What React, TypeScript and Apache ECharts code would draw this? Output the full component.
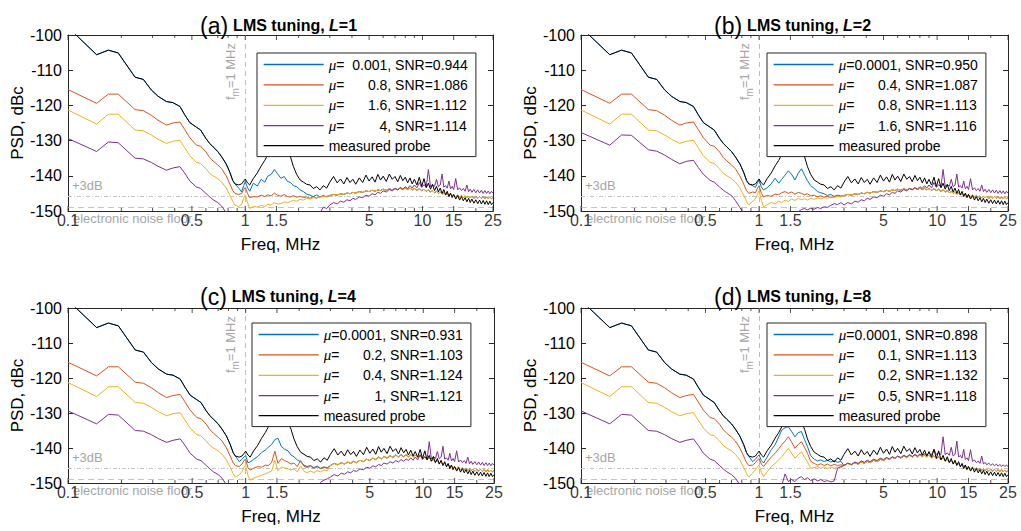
import { useEffect, useRef } from 'react';
import * as echarts from 'echarts';

// ---------------- frequency grids (MHz) ----------------
const FREQ_LOW = [0.1, 0.145, 0.169, 0.192, 0.239, 0.266, 0.295, 0.322, 0.359, 0.39, 0.428, 0.455, 0.487, 0.531, 0.56, 0.6, 0.63, 0.659, 0.7, 0.736, 0.78, 0.819, 0.85, 0.875];
const FREQ_MID = [0.92, 0.954, 0.98, 1.0, 1.03, 1.06, 1.11, 1.17, 1.23, 1.29, 1.34, 1.4, 1.46, 1.52, 1.59, 1.66, 1.73, 1.8, 1.87, 1.95, 2.04, 2.13, 2.22, 2.32, 2.42, 2.53, 2.64, 2.76, 2.88];
const FREQ_HIGH = [3.0, 3.15, 3.3, 3.45, 3.6, 3.75, 3.9, 4.05, 4.2, 4.4, 4.6, 4.8, 5.0, 5.2, 5.4, 5.6, 5.8, 6.0, 6.25, 6.5, 6.75, 7.0, 7.25, 7.5, 7.75, 8.0, 8.25, 8.5, 8.75, 9.0, 9.3, 9.6, 9.9, 10.2, 10.5, 10.8, 11.1, 11.4, 11.7, 12.0, 12.3, 12.6, 12.9, 13.2, 13.5, 13.8, 14.1, 14.4, 14.7, 15.0, 15.4, 15.8, 16.2, 16.6, 17.0, 17.4, 17.8, 18.2, 18.6, 19.0, 19.5, 20.0, 20.5, 21.0, 21.5, 22.0, 22.5, 23.0, 23.5, 24.0, 24.5, 25.0];

// ---------------- low-frequency segments (dBc) ----------------
const BLACK_LOW = [-97.8, -105.6, -104.3, -105.1, -112.0, -112.6, -115.6, -117.4, -118.9, -119.2, -120.3, -122.6, -124.9, -126.2, -127.0, -129.4, -130.8, -131.8, -133.1, -134.6, -136.6, -139.0, -141.3, -142.3];
const RED_LOW = [-115.5, -119.4, -116.8, -116.8, -121.2, -121.5, -122.8, -124.2, -125.6, -125.0, -124.7, -126.8, -129.2, -131.3, -131.6, -133.2, -134.8, -135.8, -136.9, -138.0, -140.0, -142.3, -144.2, -145.0];
const YELLOW_LOW = [-121.3, -125.3, -122.5, -122.5, -127.0, -127.2, -128.4, -129.6, -130.8, -130.2, -129.9, -132.0, -134.3, -136.2, -136.5, -138.0, -139.3, -140.0, -140.8, -141.8, -143.4, -145.5, -147.3, -148.3];
const PURPLE_LOW = [-129.4, -133.1, -130.4, -130.6, -135.0, -135.2, -136.2, -137.3, -138.4, -137.8, -137.4, -139.2, -141.5, -143.2, -143.6, -145.0, -146.0, -146.8, -147.6, -148.6, -150.5, -152, -153, -153.5];
const PURPLE_LOW_B = [-127.7, -131.3, -128.4, -128.5, -132.6, -133.0, -134.1, -135.3, -136.6, -135.9, -135.6, -137.6, -139.6, -141.3, -141.8, -143.2, -144.1, -144.8, -145.6, -147.0, -149.0, -150.6, -152, -153];

// ---------------- 0.9 - 3 MHz segments ----------------
const BLACK_MID = [-142.6, -142.3, -141.5, -140.9, -142.0, -142.6, -140.8, -139.2, -137.2, -135.6, -134.0, -132.5, -131.6, -130.5, -131.4, -130.8, -132.6, -134.6, -137.4, -139.6, -141.2, -141.8, -142.4, -142.6, -143.6, -143.1, -144.0, -142.8, -143.5];
const BLUE_MID_A = [-143.5, -144.6, -142.8, -141.6, -143.4, -144.4, -142.1, -142.9, -141.0, -141.8, -140.1, -139.6, -138.2, -139.4, -140.7, -140.2, -141.6, -141.9, -142.8, -143.1, -144.0, -144.5, -145.2, -145.5, -145.9, -145.4, -146.0, -145.6, -146.0];
const RED_MID_A = [-145.3, -145.0, -143.9, -143.3, -145.0, -146.2, -145.9, -146.0, -145.5, -145.9, -145.4, -145.7, -144.9, -145.5, -145.8, -145.3, -145.9, -146.0, -145.6, -146.1, -145.8, -146.2, -146.0, -146.4, -146.0, -146.3, -146.0, -145.8, -145.9];
const YELLOW_MID_A = [-148.8, -148.0, -146.4, -145.4, -147.6, -149.3, -148.7, -148.9, -148.4, -148.7, -148.1, -148.3, -147.6, -148.0, -147.9, -147.4, -147.7, -147.3, -147.0, -147.2, -146.7, -146.9, -146.4, -146.6, -146.2, -146.4, -146.0, -145.9, -145.8];
const PURPLE_MID_A = [-154, -154, -153, -152.5, -154, -155, -154.5, -154, -153.5, -153.5, -153, -153, -152.5, -152.5, -152.5, -152, -152, -152, -151.8, -151.8, -151.6, -151.5, -151.5, -151.3, -151.2, -151.0, -150.5, -148.9, -149.3];
const BLUE_MID_B = [-142.8, -143.3, -142.0, -141.2, -143.2, -144.0, -143.4, -142.3, -140.7, -142.1, -141.0, -139.8, -138.6, -139.5, -141.2, -139.3, -138.0, -139.8, -141.4, -142.8, -143.6, -144.5, -144.8, -145.1, -145.6, -145.3, -145.9, -145.5, -145.8];
const RED_MID_B = [-144.6, -144.8, -143.5, -142.8, -145.0, -146.0, -145.6, -145.8, -145.2, -145.4, -144.8, -144.5, -145.0, -144.6, -145.2, -144.7, -145.0, -145.4, -145.1, -145.7, -145.5, -146.0, -145.7, -146.1, -145.8, -146.2, -145.9, -145.7, -145.9];
const YELLOW_MID_B = [-147.2, -146.6, -145.2, -144.3, -147.0, -148.8, -148.2, -147.6, -148.0, -147.2, -147.6, -146.9, -147.3, -146.6, -147.0, -146.4, -146.8, -146.5, -146.9, -146.4, -146.7, -146.3, -146.6, -146.2, -146.4, -146.0, -146.2, -145.8, -146.0];
const PURPLE_MID_B = [-153.5, -153, -152.5, -152, -153, -153.5, -153, -152.5, -152, -151.8, -151.5, -151.2, -151, -150.8, -150.6, -150.2, -149.6, -149.3, -149.7, -149.2, -149.5, -149.0, -149.3, -148.8, -149.0, -148.4, -147.9, -148.2, -147.6];
const BLUE_MID_C = [-143.9, -143.2, -142.5, -142.2, -144.2, -144.0, -143.2, -142.4, -141.3, -140.6, -139.8, -139.0, -137.6, -137.2, -139.6, -140.4, -140.8, -142.0, -142.5, -143.4, -144.0, -144.9, -145.3, -145.0, -145.6, -145.2, -145.8, -145.4, -145.7];
const RED_MID_C = [-145.3, -144.6, -143.5, -143.2, -145.6, -146.3, -145.8, -145.3, -145.5, -144.9, -145.0, -144.2, -140.9, -144.4, -143.0, -143.6, -144.0, -144.6, -144.3, -145.3, -143.6, -145.2, -145.6, -145.2, -145.8, -145.4, -145.9, -145.5, -145.8];
const YELLOW_MID_C = [-147.7, -146.8, -145.3, -145.0, -147.8, -149.2, -148.6, -148.2, -147.8, -147.4, -147.0, -146.6, -143.5, -146.5, -145.4, -145.7, -145.9, -146.3, -146.0, -146.8, -145.2, -146.7, -147.0, -146.6, -147.0, -146.5, -146.8, -146.3, -146.5];
const PURPLE_MID_C = [-154, -154, -153, -152.5, -154, -155, -154.5, -154, -153.5, -153.5, -153, -153, -152.5, -152.5, -152.5, -152, -152, -152, -151.8, -151.8, -151.6, -151.5, -151.5, -151.3, -151.2, -151.0, -149.8, -149.2, -148.8];
const BLUE_MID_D = [-143.9, -143.2, -142.4, -142.0, -143.6, -144.3, -142.6, -140.5, -139.1, -136.8, -134.9, -134.2, -133.9, -135.2, -136.8, -135.6, -135.3, -137.6, -139.6, -142.2, -143.2, -143.7, -143.4, -143.9, -143.5, -144.0, -143.6, -144.1, -143.8];
const RED_MID_D = [-144.9, -144.2, -143.4, -143.0, -144.6, -145.3, -144.0, -142.6, -141.5, -140.2, -139.1, -138.0, -136.8, -138.2, -140.1, -139.0, -138.2, -139.8, -141.5, -143.8, -144.4, -144.9, -144.5, -145.0, -144.6, -145.1, -144.7, -145.0, -144.8];
const YELLOW_MID_D = [-147.2, -146.2, -145.4, -144.9, -146.9, -148.2, -146.8, -145.3, -144.4, -143.4, -142.5, -141.3, -140.1, -141.4, -142.9, -141.9, -141.1, -142.6, -144.0, -145.8, -145.6, -145.3, -145.8, -145.4, -145.9, -145.5, -145.8, -145.4, -145.7];
const PURPLE_MID_D = [-153.5, -153, -152.5, -152, -153, -153.5, -153, -152.5, -152, -151.5, -150.8, -147.4, -149.6, -149.0, -149.6, -148.6, -148.2, -149.0, -148.5, -149.3, -148.8, -149.4, -149.0, -149.6, -149.3, -149.7, -149.4, -145.8, -145.3];

// ---------------- 3 - 25 MHz segments ----------------
const BLACK_HIGH = [
  -141.8, -140.2, -142.0, -140.9, -142.3, -140.5, -141.9, -141.0, -142.4,
  -140.6, -141.9, -139.8, -141.5, -140.3, -141.8, -139.6, -141.2, -140.1,
  -141.6, -139.5, -141.0, -140.2, -141.7, -139.9, -141.4, -140.4, -142.0, -140.6, -142.3, -141.0,
  -142.6, -140.4, -143.0, -140.8, -143.4, -142.1, -143.8, -142.5, -144.2, -143.0, -144.6, -143.5, -145.0, -143.9, -145.4, -144.4, -145.9, -144.9, -146.2, -145.3,
  -146.6, -145.6, -146.9, -145.9, -147.1, -146.2, -147.4, -146.4, -147.6, -146.6,
  -147.8, -146.8, -147.9, -146.9, -148.0, -147.0, -148.1, -147.1, -148.2, -147.2, -148.2, -147.6];
const GROUP_HIGH_AB = [
  -145.6, -145.3, -145.5, -145.1, -145.3, -144.9, -145.1, -144.7, -144.9,
  -144.5, -144.7, -144.3, -144.5, -144.1, -144.4, -144.0, -144.2, -143.8,
  -144.1, -143.7, -144.0, -143.6, -143.9, -143.5, -143.9, -143.5, -143.9, -143.5, -144.0, -143.6,
  -144.1, -143.7, -144.2, -143.8, -144.4, -144.0, -144.6, -144.2, -144.8, -144.4, -145.0, -144.6, -145.2, -144.8, -145.4, -145.0, -145.6, -145.2, -145.8, -145.4,
  -146.0, -145.5, -146.1, -145.6, -146.2, -145.7, -146.3, -145.8, -146.3, -145.8,
  -146.4, -145.9, -146.4, -145.9, -146.4, -145.9, -146.5, -146.0, -146.5, -146.0, -146.5, -146.1];
const GROUP_HIGH_CD = [
  -145.0, -144.4, -144.8, -144.2, -144.6, -144.0, -144.4, -143.8, -144.2,
  -143.5, -143.9, -143.2, -143.6, -142.9, -143.3, -142.6, -143.1, -142.4,
  -142.9, -142.2, -142.7, -142.0, -142.6, -141.9, -142.5, -141.9, -142.5, -141.9, -142.6, -142.0,
  -142.8, -142.2, -143.0, -142.5, -143.3, -142.8, -143.6, -143.2, -144.0, -143.6, -144.4, -144.0, -144.8, -144.4, -145.1, -144.7, -145.4, -145.0, -145.7, -145.3,
  -146.0, -145.5, -146.2, -145.7, -146.3, -145.8, -146.4, -145.9, -146.5, -146.0,
  -146.6, -146.1, -146.6, -146.1, -146.7, -146.2, -146.7, -146.2, -146.8, -146.3, -146.8, -146.4];
const PURPLE_HIGH = [
  -148.3, -147.6, -148.0, -147.2, -147.5, -146.8, -147.1, -146.4, -146.7,
  -146.0, -146.2, -145.5, -145.8, -145.1, -145.4, -144.7, -145.0, -144.3,
  -144.6, -143.9, -144.3, -143.6, -144.0, -143.3, -143.8, -143.1, -143.6, -142.8, -143.5, -142.6,
  -143.4, -141.9, -143.3, -142.5, -143.2, -138.2, -143.1, -142.4, -143.0, -141.0, -143.1, -142.6, -139.5, -143.2, -142.8, -143.5, -141.5, -143.7, -143.0, -143.9,
  -140.8, -144.0, -143.4, -144.2, -143.6, -144.4, -142.6, -144.5, -143.8, -144.7,
  -143.9, -144.8, -144.0, -144.9, -144.1, -145.0, -144.2, -145.0, -144.3, -145.1, -144.4, -144.9];
const PURPLE_HIGH_D = [
  -145.0, -144.3, -144.7, -144.0, -144.4, -143.7, -144.1, -143.5, -143.9,
  -143.2, -143.6, -142.9, -143.3, -142.7, -143.1, -142.5, -142.9, -142.3,
  -142.7, -142.1, -142.5, -141.9, -142.4, -141.8, -142.3, -141.7, -142.2, -141.6, -142.1, -141.5,
  -142.0, -140.4, -141.9, -141.3, -141.9, -136.8, -141.9, -141.4, -142.1, -139.8, -142.3, -141.8, -138.0, -142.6, -142.1, -142.9, -140.4, -143.3, -142.8, -143.6,
  -140.5, -143.9, -143.4, -144.2, -143.7, -144.4, -142.3, -144.6, -144.1, -144.8,
  -144.3, -145.0, -144.5, -145.1, -144.6, -145.2, -144.7, -145.3, -144.8, -145.3, -144.9, -145.3];

// ---------------- legend entries ----------------
const MU_A = ['0.001', '0.8', '1.6', '4'];
const SNR_A = ['0.944', '1.086', '1.112', '1.114'];
const MU_B = ['0.0001', '0.4', '0.8', '1.6'];
const SNR_B = ['0.950', '1.087', '1.113', '1.116'];
const MU_C = ['0.0001', '0.2', '0.4', '1'];
const SNR_C = ['0.931', '1.103', '1.124', '1.121'];
const MU_D = ['0.0001', '0.1', '0.2', '0.5'];
const SNR_D = ['0.898', '1.113', '1.132', '1.118'];
const PROBE_NAME = 'measured probe';

// ---------------- axis ticks & reference levels ----------------
const MAJOR_TICKS = [0.1, 0.5, 1, 1.5, 5, 10, 15, 25];
const MINOR_TICKS = [0.2, 0.3, 0.4, 0.6, 0.7, 0.8, 0.9, 2, 3, 4, 6, 7, 8, 9, 20];
const F_MOD = 1;
const NOISE_FLOOR = -148.8;
const PLUS_3DB = -145.8;
const Y_MIN = -150;
const Y_MAX = -100;

const COLORS = ['#0072BD', '#D95319', '#EDB120', '#7E2F8E', '#000000'];
const AXIS_COLOR = '#262626';
const FONT = '"Liberation Sans", Arial, Helvetica, sans-serif';
const GRAY = '#a6a6a6';

function pairs(freqs: number[], vals: number[]) {
  return freqs.map((f, i) => [f, vals[i]]);
}
function curve(low: number[], mid: number[], high: number[]) {
  return [...pairs(FREQ_LOW, low), ...pairs(FREQ_MID, mid), ...pairs(FREQ_HIGH, high)];
}

const PANELS = [
  {
    tag: '(a)', L: '1', mu: MU_A, snr: SNR_A,
    grid: { left: 68, top: 35, width: 425, height: 176 },
    legend: { left: 257, top: 53 }, title: { left: 195, top: 9 },
    curves: [
      curve(BLACK_LOW, BLUE_MID_A, GROUP_HIGH_AB),
      curve(RED_LOW, RED_MID_A, GROUP_HIGH_AB),
      curve(YELLOW_LOW, YELLOW_MID_A, GROUP_HIGH_AB),
      curve(PURPLE_LOW, PURPLE_MID_A, PURPLE_HIGH),
      curve(BLACK_LOW, BLACK_MID, BLACK_HIGH),
    ],
  },
  {
    tag: '(b)', L: '2', mu: MU_B, snr: SNR_B,
    grid: { left: 581, top: 35, width: 427, height: 176 },
    legend: { left: 767, top: 53 }, title: { left: 709, top: 9 },
    curves: [
      curve(BLACK_LOW, BLUE_MID_B, GROUP_HIGH_AB),
      curve(RED_LOW, RED_MID_B, GROUP_HIGH_AB),
      curve(YELLOW_LOW, YELLOW_MID_B, GROUP_HIGH_AB),
      curve(PURPLE_LOW_B, PURPLE_MID_B, PURPLE_HIGH),
      curve(BLACK_LOW, BLACK_MID, BLACK_HIGH),
    ],
  },
  {
    tag: '(c)', L: '4', mu: MU_C, snr: SNR_C,
    grid: { left: 68, top: 308, width: 426, height: 175 },
    legend: { left: 252, top: 323 }, title: { left: 195, top: 280 },
    curves: [
      curve(BLACK_LOW, BLUE_MID_C, GROUP_HIGH_CD),
      curve(RED_LOW, RED_MID_C, GROUP_HIGH_CD),
      curve(YELLOW_LOW, YELLOW_MID_C, GROUP_HIGH_CD),
      curve(PURPLE_LOW, PURPLE_MID_C, PURPLE_HIGH),
      curve(BLACK_LOW, BLACK_MID, BLACK_HIGH),
    ],
  },
  {
    tag: '(d)', L: '8', mu: MU_D, snr: SNR_D,
    grid: { left: 581, top: 308, width: 427, height: 175 },
    legend: { left: 767, top: 323 }, title: { left: 709, top: 280 },
    curves: [
      curve(BLACK_LOW, BLUE_MID_D, GROUP_HIGH_CD),
      curve(RED_LOW, RED_MID_D, GROUP_HIGH_CD),
      curve(YELLOW_LOW, YELLOW_MID_D, GROUP_HIGH_CD),
      curve(PURPLE_LOW, PURPLE_MID_D, PURPLE_HIGH_D),
      curve(BLACK_LOW, BLACK_MID, BLACK_HIGH),
    ],
  },
];

function buildOption() {
  const grid: any[] = [];
  const xAxis: any[] = [];
  const yAxis: any[] = [];
  const series: any[] = [];
  const legend: any[] = [];
  const title: any[] = [];
  const axisLine = { show: true, onZero: false, lineStyle: { color: AXIS_COLOR, width: 1 } };
  const nameStyle = { fontSize: 17, color: '#000', fontFamily: FONT };

  PANELS.forEach((p, i) => {
    grid.push({ ...p.grid, containLabel: false });
    const xb = 2 * i;
    const yl = 2 * i;
    xAxis.push({
      type: 'log', logBase: 10, gridIndex: i, min: 0.1, max: 25, position: 'bottom',
      axisLine, axisTick: { show: false }, axisLabel: { show: false }, splitLine: { show: false },
      name: 'Freq, MHz', nameLocation: 'middle', nameGap: 25, nameTextStyle: nameStyle,
    });
    xAxis.push({
      type: 'log', logBase: 10, gridIndex: i, min: 0.1, max: 25, position: 'top',
      axisLine, axisTick: { show: false }, axisLabel: { show: false }, splitLine: { show: false },
    });
    yAxis.push({
      type: 'value', gridIndex: i, min: Y_MIN, max: Y_MAX, interval: 10, position: 'left',
      axisLine, axisTick: { show: true, inside: true, length: 5, lineStyle: { color: AXIS_COLOR } },
      axisLabel: { fontSize: 16, color: '#000', fontFamily: FONT, margin: 6 },
      splitLine: { show: false },
      name: 'PSD, dBc', nameLocation: 'middle', nameGap: 42, nameTextStyle: nameStyle,
    });
    yAxis.push({
      type: 'value', gridIndex: i, min: Y_MIN, max: Y_MAX, interval: 10, position: 'right',
      axisLine, axisTick: { show: true, inside: true, length: 5, lineStyle: { color: AXIS_COLOR } },
      axisLabel: { show: false }, splitLine: { show: false },
    });

    const names = p.mu.map((m, k) => `μ=${m}, SNR=${p.snr[k]}`);
    const allNames = [...names, PROBE_NAME];
    p.curves.forEach((data, k) => {
      const s: any = {
        type: 'line', name: allNames[k], xAxisIndex: xb, yAxisIndex: yl, data,
        symbol: 'none', showSymbol: false, clip: true, silent: true,
        lineStyle: { color: COLORS[k], width: 1 }, itemStyle: { color: COLORS[k] },
        z: 2 + k * 0.01,
      };
      if (k === 4) {
        s.markLine = {
          silent: true, symbol: ['none', 'none'], animation: false, z: 1,
          data: [
            {
              xAxis: F_MOD,
              lineStyle: { type: [5, 4], color: '#bdbdbd', width: 1 },
              label: {
                show: true, position: 'insideEndTop', distance: [8, 5],
                formatter: '{f|f}{m|m}{t|=1 MHz}',
                rich: {
                  f: { fontSize: 13, color: GRAY, fontFamily: FONT, lineHeight: 20, verticalAlign: 'middle' },
                  m: { fontSize: 10, color: GRAY, fontFamily: FONT, lineHeight: 10, verticalAlign: 'bottom' },
                  t: { fontSize: 13, color: GRAY, fontFamily: FONT, lineHeight: 20, verticalAlign: 'middle' },
                },
              },
            },
            {
              yAxis: NOISE_FLOOR,
              lineStyle: { type: [6, 4], color: '#c4c4c4', width: 1 },
              label: { show: true, position: 'insideStartBottom', distance: 5, formatter: 'electronic noise floor', color: GRAY, fontSize: 13, fontFamily: FONT },
            },
            {
              yAxis: PLUS_3DB,
              lineStyle: { type: [4, 2, 1, 2], color: '#c4c4c4', width: 1 },
              label: { show: true, position: 'insideStartTop', distance: 4, formatter: '+3dB', color: GRAY, fontSize: 13, fontFamily: FONT },
            },
          ],
        };
      }
      series.push(s);
    });

    // axis tick marks drawn on the log axes
    series.push({
      type: 'scatter', xAxisIndex: xb, yAxisIndex: yl, silent: true, clip: false, z: 5,
      data: MAJOR_TICKS.map((f) => [f, Y_MIN]),
      symbol: 'rect', symbolSize: [1, 5], symbolOffset: [0, -2.5], itemStyle: { color: AXIS_COLOR },
      label: { show: true, position: 'bottom', distance: 1, formatter: (q: any) => String(q.value[0]), fontSize: 16, color: '#000', fontFamily: FONT },
    });
    series.push({
      type: 'scatter', xAxisIndex: xb, yAxisIndex: yl, silent: true, clip: false, z: 5,
      data: MAJOR_TICKS.map((f) => [f, Y_MAX]),
      symbol: 'rect', symbolSize: [1, 5], symbolOffset: [0, 2.5], itemStyle: { color: AXIS_COLOR },
    });
    series.push({
      type: 'scatter', xAxisIndex: xb, yAxisIndex: yl, silent: true, clip: false, z: 5,
      data: MINOR_TICKS.map((f) => [f, Y_MIN]),
      symbol: 'rect', symbolSize: [1, 3], symbolOffset: [0, -1.5], itemStyle: { color: AXIS_COLOR },
    });
    series.push({
      type: 'scatter', xAxisIndex: xb, yAxisIndex: yl, silent: true, clip: false, z: 5,
      data: MINOR_TICKS.map((f) => [f, Y_MAX]),
      symbol: 'rect', symbolSize: [1, 3], symbolOffset: [0, 1.5], itemStyle: { color: AXIS_COLOR },
    });

    legend.push({
      orient: 'vertical', left: p.legend.left, top: p.legend.top, data: allNames,
      backgroundColor: '#ffffff', borderColor: AXIS_COLOR, borderWidth: 1, borderRadius: 0,
      padding: [4, 8, 4, 6], itemWidth: 60, itemHeight: 14, itemGap: 5.4, selectedMode: false,
      itemStyle: { opacity: 0 },
      lineStyle: { width: 1.3 },
      textStyle: {
        fontSize: 14, color: '#000', fontFamily: FONT,
        rich: {
          mu: { fontSize: 15, fontStyle: 'italic', fontFamily: '"Liberation Serif", "DejaVu Serif", serif', color: '#000' },
          eq: { fontSize: 14, color: '#000', fontFamily: FONT },
          v: { fontSize: 14, color: '#000', fontFamily: FONT, width: 43, align: 'right' },
          r: { fontSize: 14, color: '#000', fontFamily: FONT, align: 'right' },
        },
      },
      formatter: (name: string) => {
        const m = name.match(/^μ=([^,]+), (.*)$/);
        if (!m) return name;
        return `{mu|μ}{eq|=}{v|${m[1]}}{r|, ${m[2]}}`;
      },
    });

    title.push({
      left: p.title.left, top: p.title.top,
      text: `{p|${p.tag}} {b|LMS tuning, }{bi|L}{b|=${p.L}}`,
      textStyle: {
        fontWeight: 'normal',
        rich: {
          p: { fontSize: 23, fontWeight: 'normal', color: '#000', fontFamily: FONT },
          b: { fontSize: 16, fontWeight: 'bold', color: '#000', fontFamily: FONT },
          bi: { fontSize: 16, fontWeight: 'bold', fontStyle: 'italic', color: '#000', fontFamily: FONT },
        },
      },
    });
  });

  return { animation: false, backgroundColor: '#ffffff', grid, xAxis, yAxis, series, legend, title };
}

export default function App() {
  const ref = useRef<HTMLDivElement>(null);
  useEffect(() => {
    if (!ref.current) return;
    const chart = echarts.init(ref.current, undefined, { renderer: 'svg' });
    chart.setOption(buildOption() as any);
    return () => chart.dispose();
  }, []);
  return (
    <div
      ref={ref}
      style={{ position: 'absolute', left: 0, top: 0, width: 1021, height: 531, background: '#fff' }}
    />
  );
}
